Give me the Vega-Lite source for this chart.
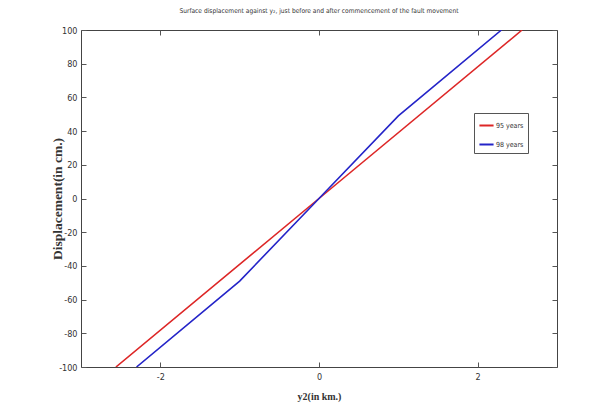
{
  "$schema": "https://vega.github.io/schema/vega-lite/v6.json",
  "autosize": "none",
  "width": 476,
  "height": 337,
  "padding": {"left": 81, "top": 30, "right": 59, "bottom": 45},
  "background": "white",
  "title": {
    "text": "Surface displacement against y₂, just before and after commencement of the fault movement",
    "font": "DejaVu Sans Condensed, Liberation Sans",
    "fontSize": 6.6,
    "fontWeight": "normal",
    "color": "#333",
    "offset": 11,
    "anchor": "middle"
  },
  "config": {
    "view": {"stroke": "#444", "strokeWidth": 1},
    "axis": {
      "labelFont": "DejaVu Sans Condensed, Liberation Sans",
      "labelFontSize": 9,
      "labelColor": "#333",
      "domain": false,
      "grid": false,
      "tickColor": "#555",
      "tickSize": -5,
      "titleFont": "Liberation Serif",
      "titleFontWeight": "bold",
      "titleColor": "#333"
    }
  },
  "data": {
    "values": [
      {"y2": -2.56, "disp": -100, "series": "95 years"},
      {"y2": 0, "disp": 0, "series": "95 years"},
      {"y2": 2.56, "disp": 100, "series": "95 years"},
      {"y2": -2.3, "disp": -100, "series": "98 years"},
      {"y2": -1, "disp": -49, "series": "98 years"},
      {"y2": 0, "disp": 0, "series": "98 years"},
      {"y2": 1, "disp": 49, "series": "98 years"},
      {"y2": 2.3, "disp": 100, "series": "98 years"}
    ]
  },
  "layer": [
    {
      "mark": {"type": "line", "strokeWidth": 1.6, "clip": true},
      "encoding": {
        "x": {
          "field": "y2", "type": "quantitative",
          "scale": {"domain": [-3, 3], "nice": false, "zero": false},
          "axis": {"values": [-2, 0, 2], "labelExpr": "replace(datum.label, '−', '-')", "title": "y2(in km.)", "titleFontSize": 10, "titlePadding": 10, "labelPadding": 10}
        },
        "y": {
          "field": "disp", "type": "quantitative",
          "scale": {"domain": [-100, 100], "nice": false},
          "axis": {"values": [-100, -80, -60, -40, -20, 0, 20, 40, 60, 80, 100], "labelExpr": "replace(datum.label, '−', '-')", "title": "Displacement(in cm.)", "titleFontSize": 13.5, "titlePadding": -6, "labelPadding": 9}
        },
        "color": {
          "field": "series", "type": "nominal",
          "scale": {"domain": ["95 years", "98 years"], "range": ["#dd2626", "#2424c8"]},
          "legend": {
            "title": null,
            "orient": "none",
            "legendX": 393,
            "legendY": 83,
            "symbolType": "stroke",
            "symbolSize": 200,
            "symbolStrokeWidth": 2,
            "labelFont": "DejaVu Sans Condensed, Liberation Sans",
            "labelFontSize": 7,
            "labelColor": "#333",
            "labelOffset": 1,
            "rowPadding": 6,
            "padding": 4,
            "strokeColor": "#555",
            "fillColor": "white"
          }
        },
        "detail": {"field": "series"}
      }
    },
    {
      "mark": {"type": "point", "opacity": 0},
      "encoding": {
        "x": {"field": "y2", "type": "quantitative", "scale": {"domain": [-3, 3], "nice": false, "zero": false},
          "axis": {"orient": "top", "values": [-2, 0, 2], "labels": false, "title": null}},
        "y": {"field": "disp", "type": "quantitative", "scale": {"domain": [-100, 100], "nice": false},
          "axis": {"orient": "right", "values": [-100, -80, -60, -40, -20, 0, 20, 40, 60, 80, 100], "labels": false, "title": null}}
      }
    }
  ],
  "resolve": {"axis": {"x": "independent", "y": "independent"}}
}
